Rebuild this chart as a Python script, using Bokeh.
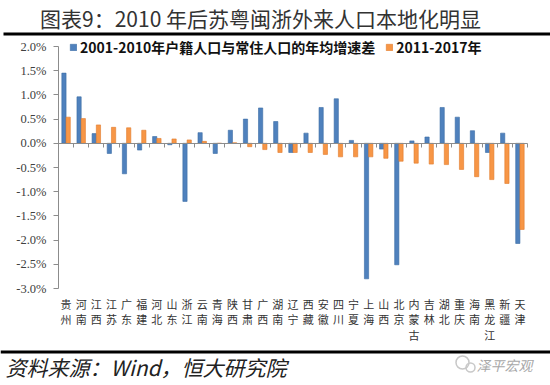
import numpy as np
from bokeh.plotting import figure
from bokeh.models import (Range1d, FixedTicker, NumeralTickFormatter, Legend,
                          LegendItem, ColumnDataSource)
from bokeh.transform import dodge
from bokeh.core.properties import value
from bokeh.embed import file_html
from bokeh.resources import INLINE

# ---------------- data ----------------
title_text = "图表9：2010 年后苏粤闽浙外来人口本地化明显"
source_text = "资料来源：Wind，恒大研究院"
watermark_text = "泽平宏观"
series_names = ["2001-2010年户籍人口与常住人口的年均增速差", "2011-2017年"]
categories = ["贵州", "河南", "江西", "江苏", "广东", "福建", "河北", "山东", "浙江", "云南",
              "青海", "陕西", "甘肃", "广西", "湖南", "辽宁", "西藏", "安徽", "四川", "宁夏",
              "上海", "山西", "北京", "内蒙古", "吉林", "湖北", "重庆", "海南", "黑龙江", "新疆", "天津"]
# values in percent
diff_2001_2010 = [1.45, 0.96, 0.20, -0.21, -0.63, -0.14, 0.14, -0.03, -1.20, 0.22,
                  -0.21, 0.27, 0.50, 0.73, 0.45, -0.19, 0.21, 0.74, 0.92, 0.06,
                  -2.80, -0.12, -2.51, 0.05, 0.13, 0.74, 0.54, 0.26, -0.19, 0.21, -2.07]
diff_2011_2017 = [0.54, 0.51, 0.38, 0.33, 0.32, 0.27, 0.10, 0.09, 0.07, 0.04,
                  0.00, 0.01, -0.07, -0.13, -0.19, -0.19, -0.19, -0.23, -0.28, -0.28,
                  -0.28, -0.31, -0.37, -0.41, -0.43, -0.44, -0.54, -0.69, -0.75, -0.83, -1.78]
y_ticks = [2.0, 1.5, 1.0, 0.5, 0.0, -0.5, -1.0, -1.5, -2.0, -2.5, -3.0]

# ---------------- layout (page pixels) ----------------
W, H = 550, 385
CANVAS_LEFT, CANVAS_TOP = 0, 0
AXIS_LEFT_PX, AXIS_RIGHT_PX = 58, 527   # page x of plot area edges
YMAX_PX, YMIN_PX = 46, 288              # page y of top / bottom tick

CJK = "Noto Sans CJK SC"
SERIF = "Liberation Serif"
BLUE, BLUE_LINE = "#4F81BD", "#3B6BA5"
ORANGE, ORANGE_LINE = "#F79646", "#E07B2C"

n = len(categories)
ymax, ymin = y_ticks[0] / 100, y_ticks[-1] / 100
sx = (AXIS_RIGHT_PX - AXIS_LEFT_PX) / n
sy = (YMIN_PX - YMAX_PX) / (ymax - ymin)


def X(px):
    return (px - AXIS_LEFT_PX) / sx


def Y(py):
    return ymax - (py - YMAX_PX) / sy


p = figure(width=W, height=H,
           x_range=Range1d(X(CANVAS_LEFT), X(CANVAS_LEFT + W)),
           y_range=Range1d(Y(CANVAS_TOP + H), Y(CANVAS_TOP)),
           toolbar_location=None, output_backend="svg", min_border=0,
           outline_line_color=None)
p.xgrid.visible = False
p.ygrid.visible = False

src = ColumnDataSource(dict(x=np.arange(n) + 0.5,
                            b=np.array(diff_2001_2010) / 100,
                            o=np.array(diff_2011_2017) / 100))
rb = p.vbar(x=dodge("x", -0.14), top="b", bottom=0, width=0.28, source=src,
            fill_color=BLUE, line_color=BLUE_LINE, line_width=0.6)
ro = p.vbar(x=dodge("x", 0.14), top="o", bottom=0, width=0.28, source=src,
            fill_color=ORANGE, line_color=ORANGE_LINE, line_width=0.6)

# y axis placed at the left edge of the bars
ya = p.yaxis[0]
ya.fixed_location = 0
ya.ticker = FixedTicker(ticks=[t / 100 for t in y_ticks])
ya.formatter = NumeralTickFormatter(format="0.0%")
ya.bounds = (ymin, ymax)
ya.axis_line_color = "#8c8c8c"
ya.major_tick_line_color = "#8c8c8c"
ya.major_tick_out = 5
ya.major_tick_in = 0
ya.minor_tick_line_color = None
ya.major_label_standoff = 7
ya.major_label_text_font = SERIF
ya.major_label_text_font_size = "12.5px"
ya.major_label_text_color = "#404040"

# x axis on the zero line, tick marks between categories (no labels)
xa = p.xaxis[0]
xa.fixed_location = 0
xa.ticker = FixedTicker(ticks=[], minor_ticks=list(range(n + 1)))
xa.bounds = (0, n)
xa.axis_line_color = "#8c8c8c"
xa.major_tick_line_color = None
xa.minor_tick_line_color = "#8c8c8c"
xa.minor_tick_out = 4
xa.minor_tick_in = 0

# vertical category labels (one character per row)
for i in range(3):
    idx = [k for k, c in enumerate(categories) if len(c) > i]
    p.text(x=[k + 0.5 for k in idx], y=[ymin] * len(idx),
           text=[categories[k][i] for k in idx], y_offset=15 + 15.5 * i,
           text_font=value(CJK), text_font_size="11px", text_color="#333333",
           text_align="center", text_baseline="middle")

legend = Legend(items=[LegendItem(label=series_names[0], renderers=[rb]),
                       LegendItem(label=series_names[1], renderers=[ro])],
                orientation="horizontal", location=(69, 328), margin=0, padding=0,
                spacing=10, glyph_width=8, glyph_height=8, label_standoff=3,
                label_text_font=CJK, label_text_font_style="bold", label_text_font_size="14px",
                label_text_color="#111111", border_line_color=None, background_fill_alpha=0)
p.add_layout(legend)

# title, rules, source
p.text(x=[X(260)], y=[Y(17)], text=[title_text], text_font=value(CJK), text_font_size="21px",
       text_color="#333333", text_align="center", text_baseline="middle")
p.segment(x0=[X(3), X(0)], y0=[Y(33.5), Y(351.5)], x1=[X(W), X(W)], y1=[Y(33.5), Y(351.5)],
          line_color="black", line_width=3)
p.text(x=[X(5)], y=[Y(366)], text=[source_text], text_font=value(CJK), text_font_size="21px",
       text_font_style="italic", text_color="#222222", text_align="left", text_baseline="middle")
p.text(x=[X(532)], y=[Y(364)], text=[watermark_text], text_font=value(CJK), text_font_size="14px",
       text_font_style="italic", text_color="#a8a8a8", text_align="right", text_baseline="middle")
p.scatter(x=[X(462), X(470)], y=[Y(362), Y(367)], size=[13, 9], marker="circle",
          fill_color=None, line_color="#c8c8c8", line_width=1.5)

open("out.html", "w").write(file_html(p, INLINE))
